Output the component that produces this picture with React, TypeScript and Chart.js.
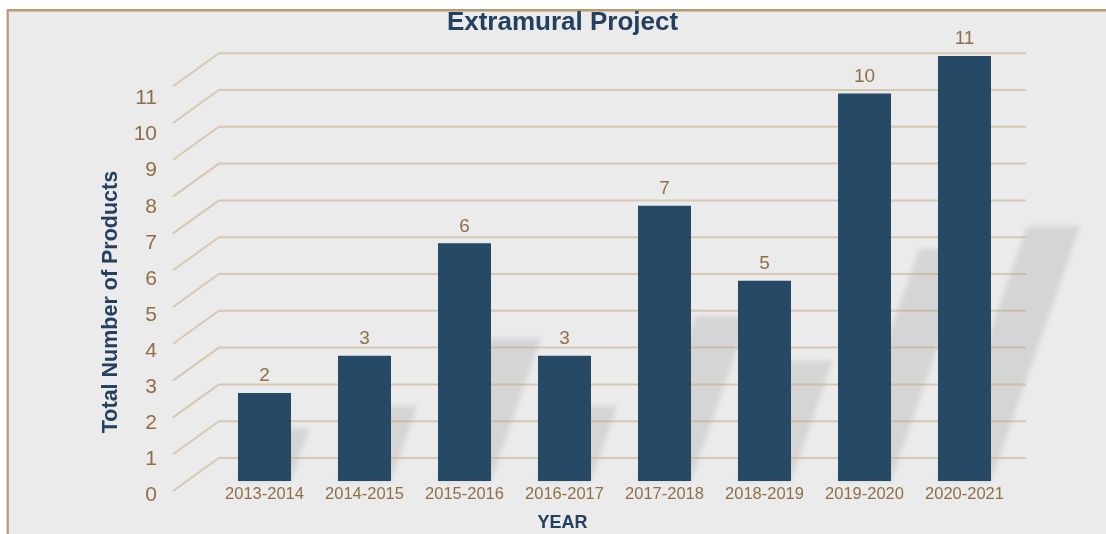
import React, { useEffect, useRef } from 'react';
import { Chart, registerables } from 'chart.js';

Chart.register(...registerables);

const CATEGORIES = ['2013-2014', '2014-2015', '2015-2016', '2016-2017', '2017-2018', '2018-2019', '2019-2020', '2020-2021'];
const PRODUCTS = [2, 3, 6, 3, 7, 5, 10, 11];
const Y_TICKS = [0, 1, 2, 3, 4, 5, 6, 7, 8, 9, 10, 11];

const TITLE = 'Extramural Project';
const X_TITLE = 'YEAR';
const Y_TITLE = 'Total Number of Products';

const FONT = '"Liberation Sans", Arial, Helvetica, sans-serif';
const TAN = '#8f6f47';
const NAVY = '#24405f';
const BAR = '#264a66';

const backdrop = {
  id: 'backdrop',
  beforeDraw(chart: any) {
    const { ctx, width, height } = chart;
    ctx.save();
    ctx.fillStyle = '#ffffff';
    ctx.fillRect(0, 0, width, height);
    ctx.fillStyle = '#eaebea';
    ctx.fillRect(7, 9, width - 7, height - 9);
    ctx.fillStyle = '#b59a72';
    ctx.fillRect(7, 9, width - 7, 2.5);
    ctx.fillRect(6.6, 9, 2.2, height - 9);
    ctx.restore();
  },
};

const wall = {
  id: 'wall',
  beforeDatasetsDraw(chart: any) {
    const { ctx, chartArea } = chart;
    const g = chart.scales.yGrid;
    const meta = chart.getDatasetMeta(0);
    ctx.save();
    // soft shadows cast on the back wall
    ctx.filter = 'blur(2.5px)';
    ctx.fillStyle = 'rgba(0,0,0,0.09)';
    meta.data.forEach((el: any) => {
      const { x, y, base, width } = el.getProps(['x', 'y', 'base', 'width'], true);
      const h = base - y;
      const sh = h * 0.6;
      const sk = sh * 0.35;
      ctx.beginPath();
      ctx.moveTo(x - width / 2, base);
      ctx.lineTo(x + width / 2, base);
      ctx.lineTo(x + width / 2 + sk, base - sh);
      ctx.lineTo(x - width / 2 + sk, base - sh);
      ctx.closePath();
      ctx.fill();
    });
    ctx.filter = 'none';
    // perspective grid: floor diagonals + back-wall lines
    ctx.strokeStyle = 'rgba(198,166,122,0.5)';
    ctx.lineWidth = 2;
    Y_TICKS.forEach((v) => {
      const yf = g.getPixelForValue(v);
      const yb = yf - 33;
      ctx.beginPath();
      ctx.moveTo(chartArea.left - 41.5, yf);
      ctx.lineTo(chartArea.left + 4.5, yb);
      ctx.lineTo(chartArea.right + 11.5, yb);
      ctx.stroke();
    });
    ctx.restore();
  },
};

const valueLabels = {
  id: 'valueLabels',
  afterDatasetsDraw(chart: any) {
    const { ctx } = chart;
    const meta = chart.getDatasetMeta(0);
    ctx.save();
    ctx.fillStyle = TAN;
    ctx.font = `19px ${FONT}`;
    ctx.textAlign = 'center';
    ctx.textBaseline = 'middle';
    meta.data.forEach((el: any, i: number) => {
      const { x, y } = el.getProps(['x', 'y'], true);
      ctx.fillText(String(PRODUCTS[i]), x, y - 17);
    });
    ctx.restore();
  },
};

export default function App() {
  const ref = useRef<HTMLCanvasElement | null>(null);

  useEffect(() => {
    if (!ref.current) return;
    const chart = new Chart(ref.current, {
      type: 'bar',
      data: {
        labels: CATEGORIES,
        datasets: [
          {
            data: PRODUCTS,
            backgroundColor: BAR,
            borderWidth: 0,
            barPercentage: 0.53,
            categoryPercentage: 1,
            base: -0.347,
            clip: false,
            yAxisID: 'yBar',
            xAxisID: 'x',
          } as any,
        ],
      },
      options: {
        responsive: false,
        devicePixelRatio: 1,
        animation: false,
        layout: { padding: { left: 110.5, right: 91.5, top: 0, bottom: 0 } },
        plugins: {
          legend: { display: false },
          tooltip: { enabled: false },
          title: {
            display: true,
            text: TITLE,
            color: NAVY,
            font: { family: FONT, size: 26, weight: 'bold' },
            padding: { top: 7.5, bottom: 80.3 },
          },
        },
        scales: {
          x: {
            type: 'category',
            position: 'bottom',
            weight: 0,
            grid: { display: false, drawTicks: false },
            border: { display: false },
            ticks: { color: TAN, font: { family: FONT, size: 16.5 }, padding: 0, autoSkip: false, maxRotation: 0 },
            afterFit(s: any) {
              s.height = 20;
            },
          },
          xTitle: {
            type: 'category',
            position: 'bottom',
            weight: 1,
            fullSize: true,
            grid: { display: false, drawTicks: false },
            border: { display: false },
            ticks: { display: false },
            title: {
              display: true,
              text: X_TITLE,
              color: NAVY,
              font: { family: FONT, size: 18, weight: 'bold' },
              padding: { top: 0, bottom: 0.4 },
            },
            afterFit(s: any) {
              s.height = 29;
            },
          },
          y: {
            type: 'linear',
            position: 'left',
            min: 0.291,
            max: 10.43,
            grid: { display: false, drawTicks: true, tickLength: 57.5 },
            border: { display: false },
            afterBuildTicks(s: any) {
              s.ticks = Y_TICKS.map((v) => ({ value: v }));
            },
            ticks: {
              color: TAN,
              font: { family: FONT, size: 21 },
              padding: 0,
              autoSkip: false,
              callback: (v: any) => String(v),
            },
            title: {
              display: true,
              text: Y_TITLE,
              color: NAVY,
              font: { family: FONT, size: 21.5, weight: 'bold' },
              padding: { top: -12.1, bottom: 0 },
            },
            afterFit(s: any) {
              s.width = 104;
            },
          },
          yBar: { type: 'linear', position: 'left', display: false, min: -0.454, max: 9.319 },
          yGrid: { type: 'linear', position: 'left', display: false, min: 0.163, max: 10.109 },
        },
      } as any,
      plugins: [backdrop, wall, valueLabels],
    });
    return () => chart.destroy();
  }, []);

  return (
    <canvas
      ref={ref}
      width={1106}
      height={534}
      style={{ position: 'absolute', left: 0, top: 0, display: 'block' }}
    />
  );
}
